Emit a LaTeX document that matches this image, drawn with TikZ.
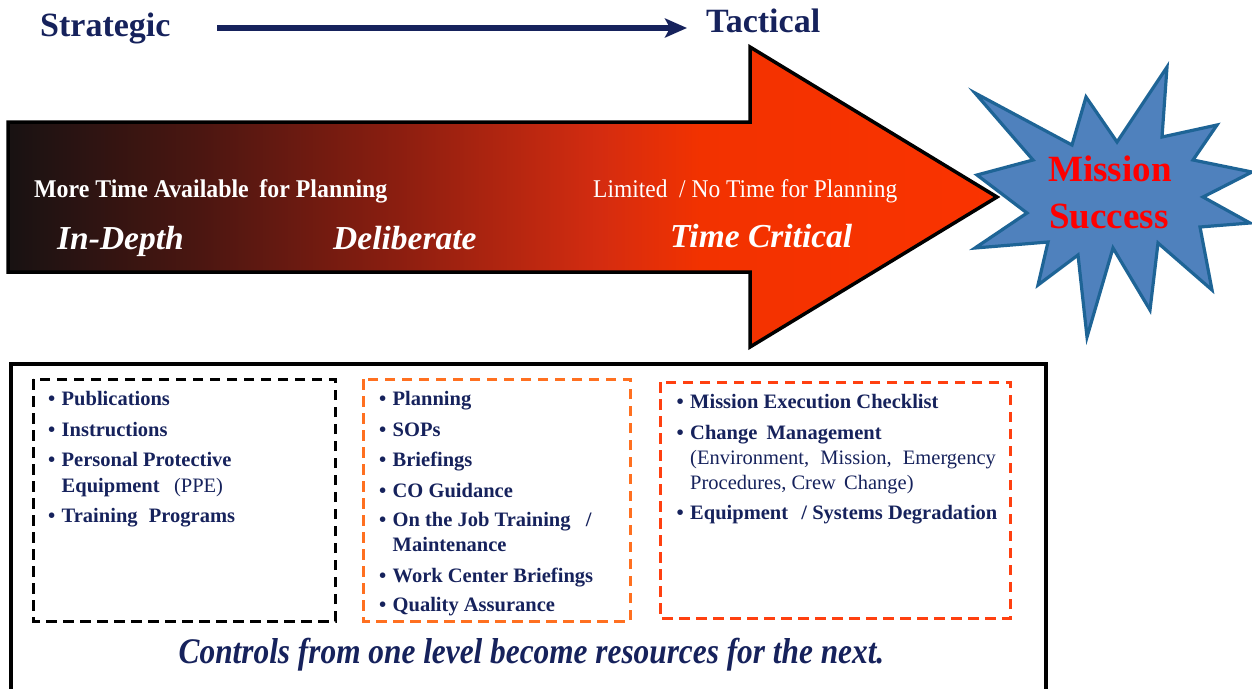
\documentclass[tikz,border=0pt]{standalone}
\usepackage{fontspec}
\setmainfont{Liberation Serif}
\usetikzlibrary{arrows.meta}
\definecolor{navy}{RGB}{22,34,92}
\definecolor{ac0}{RGB}{24,18,18}
\definecolor{ac1}{RGB}{75,22,17}
\definecolor{ac2}{RGB}{140,30,16}
\definecolor{ac3}{RGB}{212,44,16}
\definecolor{ac4}{RGB}{242,50,0}
\definecolor{ac5}{RGB}{250,51,0}
\definecolor{starfill}{RGB}{79,129,189}
\definecolor{starline}{RGB}{30,100,150}
\definecolor{boxorange}{RGB}{255,112,32}
\definecolor{boxred}{RGB}{255,64,16}
\definecolor{msred}{RGB}{255,0,0}
\pgfdeclarehorizontalshading{arrowshade}{100bp}{color(0bp)=(ac0); color(25bp)=(ac0); color(34.7bp)=(ac1); color(44.8bp)=(ac2); color(54.9bp)=(ac3); color(60bp)=(ac4); color(75bp)=(ac5); color(100bp)=(ac5)}
\newcommand\mybul{\makebox[13.5pt][l]{\textbullet}}
\begin{document}
\begin{tikzpicture}[x=1pt,y=-1pt,
  lbl/.style={anchor=base west, inner sep=0pt},
  head/.style={lbl, text=navy, font=\fontsize{34}{40}\selectfont\bfseries},
  white/.style={lbl, text=white},
  level/.style={white, font=\fontsize{33.5}{38}\selectfont\bfseries\itshape},
  item/.style={lbl, text=navy, font=\fontsize{20.5}{24}\selectfont\bfseries},
  dbox/.style={line width=3pt, dash pattern=on 10.5pt off 6.5pt}]
\useasboundingbox (0,0) rectangle (1252,688);

% top heading
\node[head] (strat) at (40,36) {Strategic};
\node[head] (tact) at (706,32) {Tactical};
\coordinate (ts) at (217,28);
\coordinate (te) at (687,28);
\draw[navy, line width=5.5pt, -{Stealth[length=22pt,width=19pt,inset=5pt]}] (ts) -- (te);

% big arrow
\path[shade, shading=arrowshade, draw=black, line width=3.5pt, line join=miter]
  (8,122) -- (750,122) -- (750,47) -- (997,197) -- (750,347) -- (750,272) -- (8,272) -- cycle;

\node[white, font=\fontsize{25.5}{30}\selectfont\bfseries] (more) at (34,197)
  {\scalebox{0.935}[1]{More Time Available\hspace{0.2em} for Planning}};
\node[white, font=\fontsize{25.5}{30}\selectfont] (lim) at (593,197)
  {\scalebox{0.92}[1]{Limited\hspace{0.25em} / No Time for Planning}};
\node[level] (indepth) at (57,249) {In-Depth};
\node[level] (delib) at (333,249) {Deliberate};
\node[level] (tcrit) at (670,247) {Time Critical};

% star
\draw[fill=starfill, draw=starline, line width=3.2pt, line join=miter]
  (975,93) -- (1072,145) -- (1086,97) -- (1117,142) -- (1167,67) -- (1162,137)
  -- (1217,125) -- (1193,160) -- (1252,172) -- (1203,197) -- (1250,223)
  -- (1200,227) -- (1212,290) -- (1158,243) -- (1150,310) -- (1113,248)
  -- (1087,337) -- (1078,255) -- (1038,285) -- (1048,242) -- (975,248)
  -- (1027,213) -- (977,175) -- (1033,160) -- cycle;
\node[anchor=base, inner sep=0pt, text=msred, font=\fontsize{37}{47}\selectfont\bfseries] (ms1) at (1110,181) {Mission};
\node[anchor=base, inner sep=0pt, text=msred, font=\fontsize{37}{47}\selectfont\bfseries] (ms2) at (1109,228) {Success};

% bottom frame
\draw[black, line width=3.5pt] (11,700) -- (11,364) -- (1046,364) -- (1046,700);

% dashed boxes
\draw[dbox, black] (33,379) rectangle (335,621);
\draw[dbox, boxorange] (363,379) rectangle (630,621);
\draw[dbox, boxred] (660,382) rectangle (1010,618);

% box 1
\node[item] (b1a) at (48,405) {\mybul Publications};
\node[item] (b1b) at (48,436) {\mybul Instructions};
\node[item] (b1c) at (48,466) {\mybul Personal Protective};
\node[item] (b1d) at (61.5,492) {Equipment\hspace{0.45em} \mdseries(PPE)};
\node[item] (b1e) at (48,522) {\mybul Training\hspace{0.3em} Programs};

% box 2
\node[item] (b2a) at (379,405) {\mybul Planning};
\node[item] (b2b) at (379,436) {\mybul SOPs};
\node[item] (b2c) at (379,466) {\mybul Briefings};
\node[item] (b2d) at (379,497) {\mybul CO Guidance};
\node[item] (b2e) at (379,526) {\mybul On the Job Training\hspace{0.5em} /};
\node[item] (b2f) at (392.5,551) {Maintenance};
\node[item] (b2g) at (379,582) {\mybul Work Center Briefings};
\node[item] (b2h) at (379,611) {\mybul Quality Assurance};

% box 3
\node[item] (b3a) at (676.5,408) {\mybul Mission Execution Checklist};
\node[item] (b3b) at (676.5,439) {\mybul Change\hspace{0.2em} Management};
\node[item, font=\fontsize{20.5}{24}\selectfont] (b3c) at (690,464) {(Environment,\hspace{0.3em} Mission,\hspace{0.3em} Emergency};
\node[item, font=\fontsize{20.5}{24}\selectfont] (b3d) at (690,489) {Procedures, Crew\hspace{0.15em} Change)};
\node[item] (b3e) at (676.5,519) {\mybul Equipment\hspace{0.4em} / Systems Degradation};

% bottom sentence
\node[anchor=base, inner sep=0pt, text=navy, font=\fontsize{36}{42}\selectfont\bfseries\itshape] (motto) at (531.5,663)
  {\scalebox{0.87}[1]{Controls from one level become resources for the next.}};
\end{tikzpicture}
\end{document}
